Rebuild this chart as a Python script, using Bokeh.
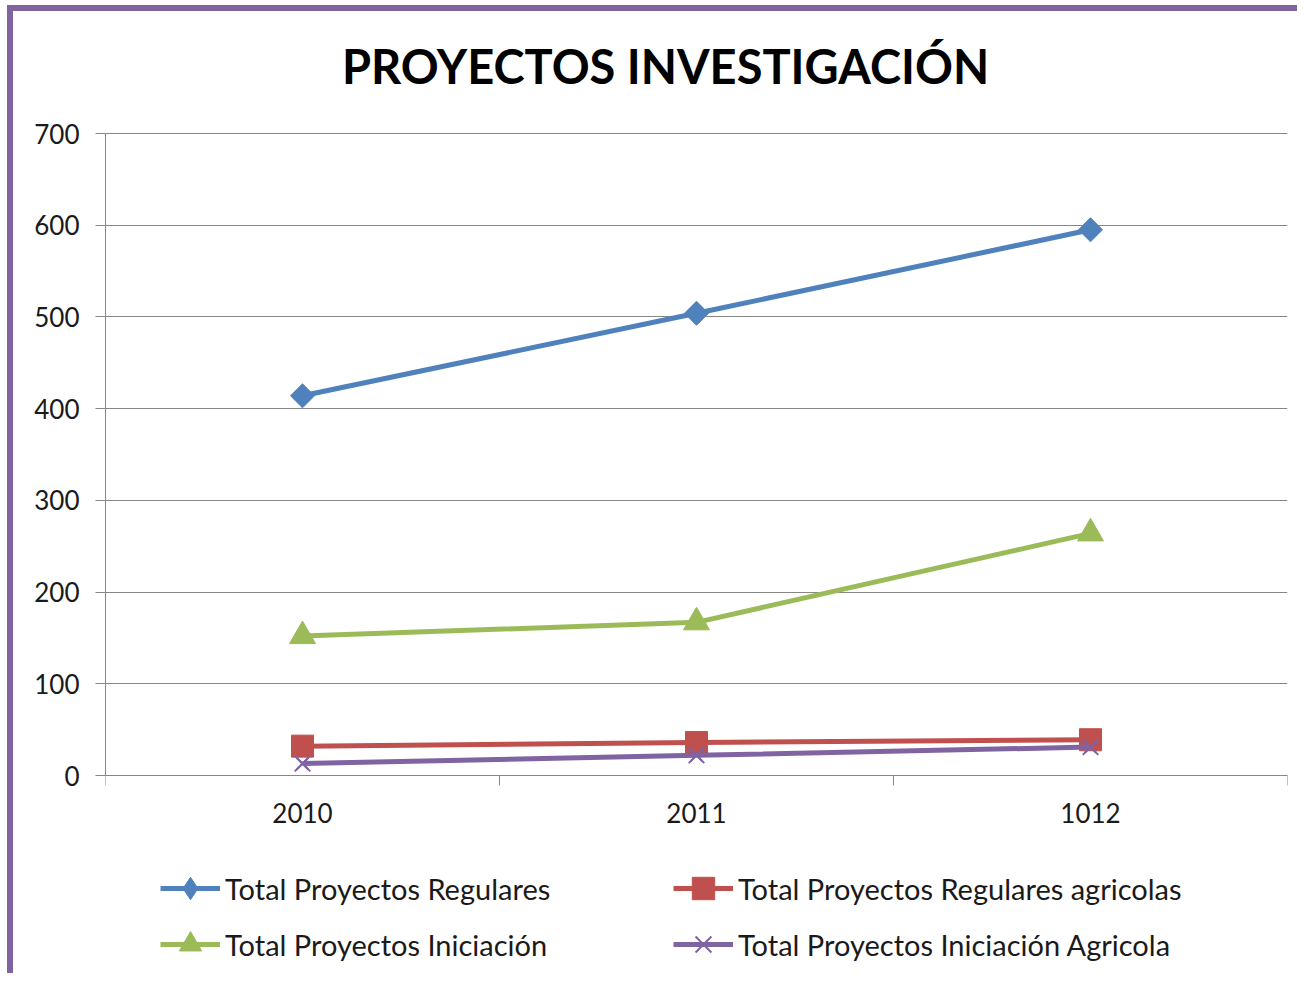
import math
from bokeh.plotting import figure
from bokeh.models import (Range1d, FixedTicker, Legend, LegendItem, Label)
from bokeh.embed import file_html
from bokeh.resources import INLINE

categories = ["2010", "2011", "1012"]
regulares = [414, 504, 595]
regulares_agricolas = [32, 36, 39]
iniciacion = [152, 167, 264]
iniciacion_agricola = [13, 22, 31]
y_ticks = [0, 100, 200, 300, 400, 500, 600, 700]
title_text = "PROYECTOS INVESTIGACIÓN"

names = ["Total Proyectos Regulares", "Total Proyectos Regulares agricolas",
         "Total Proyectos Iniciación", "Total Proyectos Iniciación Agricola"]
colors = ["#4F81BD", "#C0504D", "#9BBB59", "#8064A2"]

xs = [i + 0.5 for i in range(len(categories))]

# the frame extends beyond the 0..700 value area to hold title, axis labels and legend
y_top = y_ticks[-1]
px_per_unit = 642 / y_top
y_range_bottom = -202 / px_per_unit
y_range_top = y_top + 122 / px_per_unit

p = figure(width=1290, height=968, output_backend="svg", toolbar_location=None,
           x_range=Range1d(0, len(categories)), y_range=Range1d(y_range_bottom, y_range_top),
           min_border_left=92, min_border_right=16, min_border_top=0,
           min_border_bottom=2)
p.title = None

p.outline_line_color = None
p.background_fill_color = "white"
p.border_fill_color = "white"
p.styles = {"margin-left": "7px", "margin-top": "5px",
            "border-left": "6px solid #8064A2", "border-top": "6px solid #8064A2"}

title = Label(text=title_text, x=560, y=912, x_units="screen", y_units="screen",
              text_align="center", text_baseline="alphabetic",
              text_font="Lato", text_font_size="47px", text_font_style="bold",
              text_color="black")
p.add_layout(title, "center")

# grid
p.xgrid.grid_line_color = None
p.ygrid.ticker = FixedTicker(ticks=y_ticks)
p.ygrid.grid_line_color = "#868686"
p.ygrid.grid_line_width = 1

# y axis
p.yaxis.ticker = FixedTicker(ticks=y_ticks)
p.yaxis.bounds = (0, y_top)
p.yaxis.axis_line_color = "#868686"
p.yaxis.major_tick_line_color = "#868686"
p.yaxis.major_tick_in = 0
p.yaxis.major_tick_out = 10
p.yaxis.minor_tick_line_color = None
p.yaxis.major_label_text_font = "Lato"
p.yaxis.major_label_text_font_size = "26px"
p.yaxis.major_label_text_color = "#1a1a1a"
p.yaxis.major_label_standoff = 16

# x axis sits at y = 0 inside the frame
p.xaxis.fixed_location = 0
p.xaxis.ticker = FixedTicker(ticks=xs, minor_ticks=list(range(len(categories) + 1)))
p.xaxis.major_label_overrides = {x: c for x, c in zip(xs, categories)}
p.xaxis.axis_line_color = "#868686"
p.xaxis.major_tick_line_color = None
p.xaxis.minor_tick_line_color = "#868686"
p.xaxis.minor_tick_in = 0
p.xaxis.minor_tick_out = 10
p.xaxis.major_label_text_font = "Lato"
p.xaxis.major_label_text_font_size = "26px"
p.xaxis.major_label_text_color = "#1a1a1a"
p.xaxis.major_label_standoff = 17

series = [regulares, regulares_agricolas, iniciacion, iniciacion_agricola]
# legend-sized markers (drawn first, hidden under the larger chart markers)
legend_markers = ["diamond", "square", "triangle", "x"]
legend_sizes = [19, 14, 16, 16]
# chart markers
markers = ["square", "square", "triangle", "x"]
angles = [math.pi / 4, 0, 0, 0]
sizes = [17, 22, 26, 22]
items = []
for name, col, vals, lmk, lsz, mk, ang, sz in zip(names, colors, series, legend_markers,
                                                   legend_sizes, markers, angles, sizes):
    r1 = p.line(xs, vals, line_color=col, line_width=5)
    r0 = p.scatter(xs, vals, marker=lmk, size=lsz, fill_color=col, line_color=col,
                   line_width=2 if lmk == "x" else 1)
    p.scatter(xs, vals, marker=mk, size=sz, angle=ang, fill_color=col, line_color=col,
              line_width=2 if mk == "x" else 1)
    items.append(LegendItem(label=name, renderers=[r1, r0]))

legend = Legend(items=[items[0], items[2], items[1], items[3]], ncols=2,
                location=(55, 5), orientation="vertical",
                glyph_width=60, glyph_height=56, label_height=56, label_width=448,
                spacing=0, padding=0, margin=0, label_standoff=5,
                label_text_font="Lato", label_text_font_size="29px",
                label_text_color="#1a1a1a", border_line_color=None,
                background_fill_alpha=0)
p.add_layout(legend, "center")

open("out.html", "w").write(file_html(p, INLINE))
